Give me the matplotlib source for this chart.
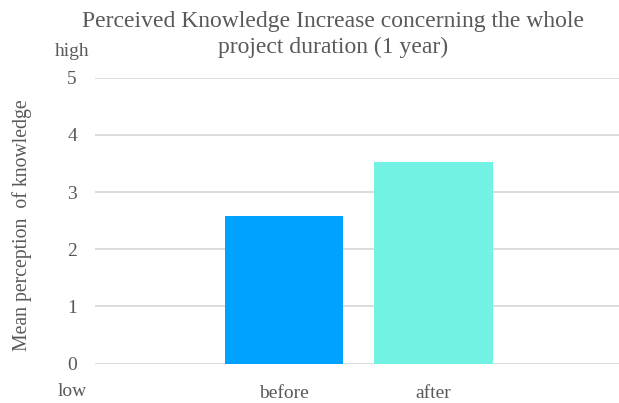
import matplotlib
matplotlib.use("Agg")
import matplotlib.pyplot as plt

categories = ["before", "after"]
values = [2.58, 3.52]
colors = ["#00A2FF", "#72F2E3"]
yticks = [0, 1, 2, 3, 4, 5]
title_lines = ["Perceived Knowledge Increase concerning the whole",
               "project duration (1 year)"]

plt.rcParams["font.family"] = ["Liberation Serif", "DejaVu Serif"]
text_color = "#595959"

fig = plt.figure(figsize=(6.19, 4.03), dpi=100)
W, H = 619, 403
ax = fig.add_axes([95 / W, 1 - 363.5 / H, (619 - 95) / W, (363.5 - 77.7) / H])

x = list(range(len(categories)))
ax.bar(x, values, width=0.79, color=colors, zorder=3)

ax.set_ylim(0, 5)
ax.set_xlim(-1.264, 2.241)
ax.set_yticks(yticks)
ax.set_yticklabels([str(t) for t in yticks], fontsize=14, color=text_color)
ax.tick_params(axis="y", length=0, pad=13)
ax.set_xticks([])
ax.yaxis.grid(True, color="#D9D9D9", linewidth=1.3, zorder=0)
for s in ax.spines.values():
    s.set_visible(False)

for xi, lab in zip(x, categories):
    ax.text(xi, -0.38, lab, ha="center", va="top", fontsize=14, color=text_color,
            transform=ax.transData)

# two-line title, each line placed on its own
for ypix, line in zip([21, 47], title_lines):
    fig.text(333 / W, 1 - ypix / H, line, ha="center", va="center",
             fontsize=17, color=text_color)

fig.text(72 / W, 1 - 51 / H, "high", ha="center", va="center", fontsize=14, color=text_color)
fig.text(72 / W, 1 - 392 / H, "low", ha="center", va="center", fontsize=14, color=text_color)
fig.text(22 / W, 1 - 225 / H, "Mean perception  of knowledge", rotation=90,
         ha="center", va="center", fontsize=14.2, color=text_color)

fig.savefig("out.png", dpi=100)
